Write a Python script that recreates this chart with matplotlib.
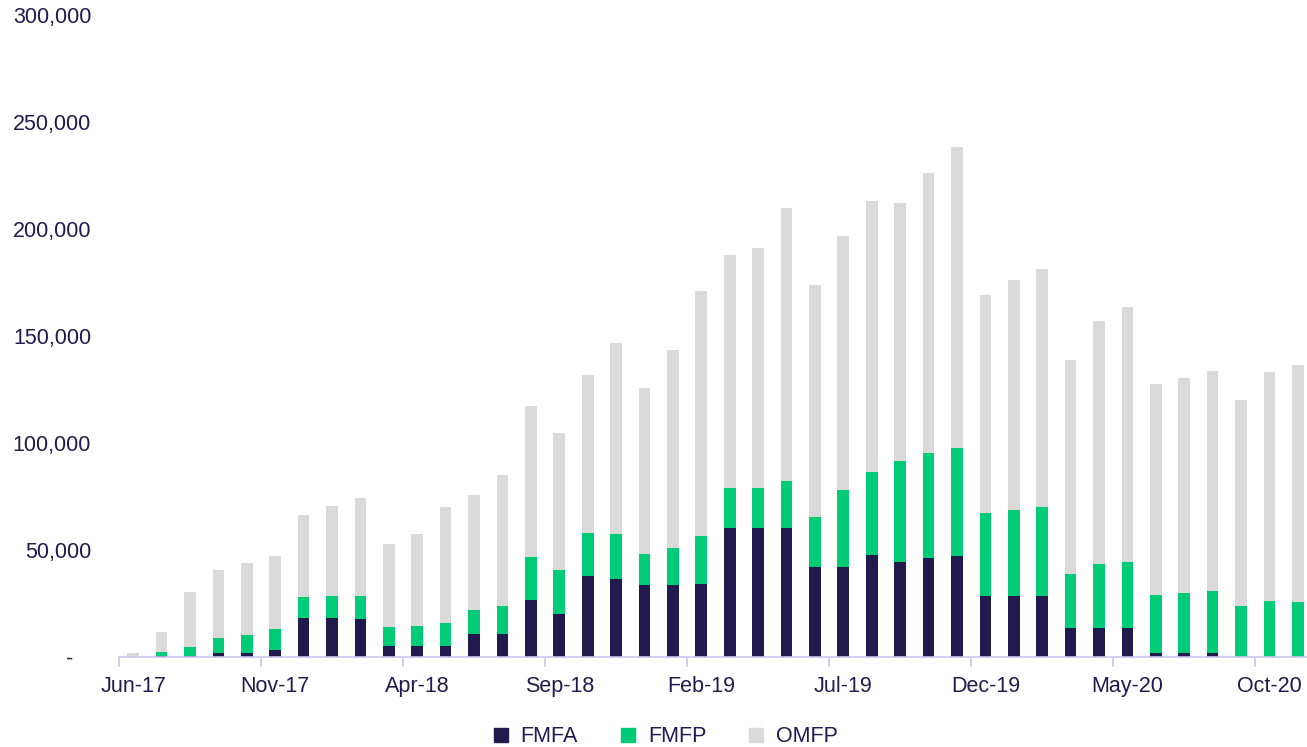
import matplotlib.pyplot as plt
import numpy as np
from matplotlib.patches import Patch

# monthly categories Jun-17 .. Nov-20
months = ['Jun-17', 'Jul-17', 'Aug-17', 'Sep-17', 'Oct-17', 'Nov-17', 'Dec-17',
          'Jan-18', 'Feb-18', 'Mar-18', 'Apr-18', 'May-18', 'Jun-18', 'Jul-18',
          'Aug-18', 'Sep-18', 'Oct-18', 'Nov-18', 'Dec-18', 'Jan-19', 'Feb-19',
          'Mar-19', 'Apr-19', 'May-19', 'Jun-19', 'Jul-19', 'Aug-19', 'Sep-19',
          'Oct-19', 'Nov-19', 'Dec-19', 'Jan-20', 'Feb-20', 'Mar-20', 'Apr-20',
          'May-20', 'Jun-20', 'Jul-20', 'Aug-20', 'Sep-20', 'Oct-20', 'Nov-20']

fmfa = [0, 500, 500, 1700, 1700, 3400, 18200, 18400, 17900, 5300, 5300, 5300,
        10900, 10900, 26600, 20300, 37900, 36600, 33800, 33800, 34100, 60300,
        60400, 60400, 42100, 42100, 47500, 44200, 46100, 47300, 28500, 28500,
        28500, 13400, 13600, 13600, 1900, 1900, 1900, 0, 0, 0]
fmfp = [0, 1800, 4300, 7300, 8700, 9800, 9700, 10100, 10600, 8700, 9300, 10400,
        10900, 12900, 20100, 20300, 19900, 20900, 14300, 17200, 22600, 18800,
        18600, 21800, 23400, 35900, 38900, 47500, 49300, 50300, 38800, 40200,
        41600, 25200, 30000, 30800, 27100, 28000, 28900, 23800, 26300, 25800]
omfp = [2000, 9500, 25700, 31800, 33500, 34100, 38500, 42100, 45800, 38600,
        42700, 54500, 53900, 61100, 70600, 64300, 73900, 89000, 77800, 92400,
        114200, 108700, 111900, 127700, 108400, 118800, 126700, 120400, 130800,
        140700, 101900, 107600, 111200, 100300, 113200, 119200, 98600, 100500,
        102700, 96300, 106700, 110600]

yticks = [0, 50000, 100000, 150000, 200000, 250000, 300000]

navy = '#211a4f'
green = '#00cc78'
grey = '#dadada'
axis_col = '#c9c6ee'

plt.rcParams['font.family'] = ['Liberation Sans', 'DejaVu Sans']

W, H = 1307, 747
fig = plt.figure(figsize=(W / 100, H / 100), dpi=100)
ax = fig.add_axes([119 / W, 90 / H, 1193 / W, 642 / H])

x = np.arange(len(months))
a = np.array(fmfa)
p = np.array(fmfp)
o = np.array(omfp)
bw = 0.41
ax.bar(x, a, bw, color=navy, label='FMFA')
ax.bar(x, p, bw, bottom=a, color=green, label='FMFP')
ax.bar(x, o, bw, bottom=a + p, color=grey, label='OMFP')

ax.set_xlim(-0.5, len(months) - 0.5)
ax.set_ylim(0, 300000)

for s in ['top', 'right', 'left']:
    ax.spines[s].set_visible(False)
ax.spines['bottom'].set_color(axis_col)
ax.spines['bottom'].set_linewidth(1.2)

lab_idx = list(range(0, len(months), 5))
ax.set_xticks(lab_idx)
ax.set_xticklabels([months[i] for i in lab_idx])
ax.set_xticks([i - 0.5 for i in lab_idx], minor=True)
ax.tick_params(axis='x', which='major', length=0, pad=14, labelsize=15.5, labelcolor=navy)
ax.tick_params(axis='x', which='minor', length=7, width=1.2, color=axis_col)

ax.set_yticks(yticks)
ax.set_yticklabels(['-   '] + [f'{v:,}' for v in yticks[1:]])
ax.tick_params(axis='y', length=0, pad=20, labelsize=15.5, labelcolor=navy)

handles = [Patch(color=navy, label='FMFA'), Patch(color=green, label='FMFP'),
           Patch(color=grey, label='OMFP')]
leg = fig.legend(handles=handles, loc='center', bbox_to_anchor=(666 / W, 10 / H),
                 ncol=3, frameon=False, fontsize=15.5, handlelength=0.65,
                 handleheight=0.65, handletextpad=0.6, columnspacing=2.0)
for t in leg.get_texts():
    t.set_color(navy)

fig.savefig('out.png', dpi=100)
